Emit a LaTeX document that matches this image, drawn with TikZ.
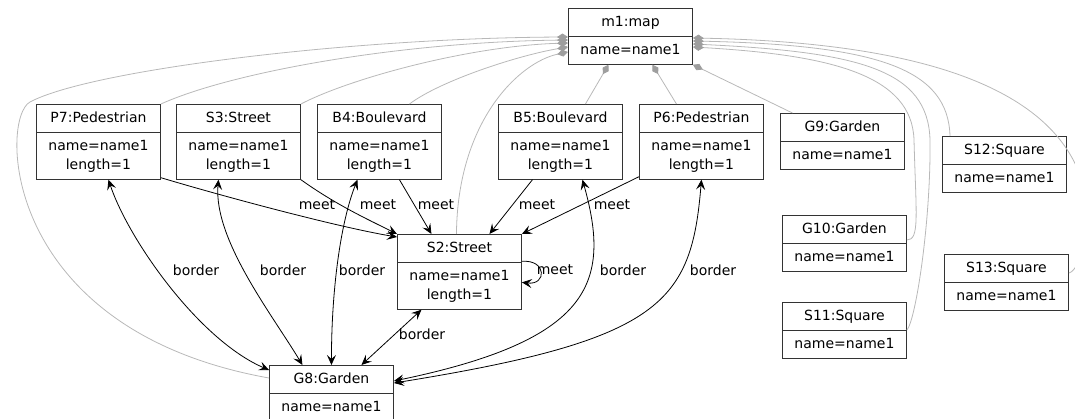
\documentclass[tikz,border=0pt]{standalone}
\usepackage{fontspec}
\setmainfont{DejaVu Sans}
\usetikzlibrary{shapes.multipart,arrows.meta,calc}

% object box: title part, then attribute part
\newcommand{\objtext}[2]{\begin{tabular}{@{}c@{}}#1\end{tabular}\nodepart{two}\begin{tabular}{@{}c@{}}#2\end{tabular}}

\begin{document}
\begin{tikzpicture}[x=1pt,y=-1pt,
  font=\fontsize{14}{19}\selectfont,
  >={Stealth[length=10pt,width=9pt,inset=4pt]},
  obj/.style={draw=black!80, line width=0.9pt, rectangle split, rectangle split parts=2,
    minimum width=124pt, inner xsep=2pt, inner ysep=4pt, anchor=north west},
  link/.style={line width=0.8pt, ->},
  brd/.style={line width=0.8pt, <->},
  part/.style={draw=black!28, line width=0.8pt, {Diamond[length=11pt,width=7pt,color=black!38]}-},
  lbl/.style={inner sep=0pt}]
  \useasboundingbox (0,0) rectangle (1075,419);

  % the map
  \node[obj] (m1) at (568,8) {\objtext{m1:map}{name=name1}};

  % top row of ways
  \node[obj] (P7) at (36,104)  {\objtext{P7:Pedestrian}{name=name1\\length=1}};
  \node[obj] (S3) at (176,104) {\objtext{S3:Street}{name=name1\\length=1}};
  \node[obj] (B4) at (317,104) {\objtext{B4:Boulevard}{name=name1\\length=1}};
  \node[obj] (B5) at (498,104) {\objtext{B5:Boulevard}{name=name1\\length=1}};
  \node[obj] (P6) at (639,104) {\objtext{P6:Pedestrian}{name=name1\\length=1}};

  % middle street and the garden below
  \node[obj] (S2) at (397,234) {\objtext{S2:Street}{name=name1\\length=1}};
  \node[obj] (G8) at (269,365) {\objtext{G8:Garden}{name=name1}};

  % gardens and squares on the right
  \node[obj] (G9)  at (780,113) {\objtext{G9:Garden}{name=name1}};
  \node[obj] (G10) at (782,215) {\objtext{G10:Garden}{name=name1}};
  \node[obj] (S11) at (782,302) {\objtext{S11:Square}{name=name1}};
  \node[obj] (S12) at (942,136) {\objtext{S12:Square}{name=name1}};
  \node[obj] (S13) at (944,254) {\objtext{S13:Square}{name=name1}};

  % composition links from m1 (grey, diamond at the map)
  \draw[part] ($(m1.north west)+(0,29)$) .. controls +(-218,1) and +(60,-32) .. (30,102)
    .. controls +(-30,16) and +(-269,-48) .. ($(G8.north west)+(0,13)$);
  \draw[part] ($(m1.north west)+(0,32)$) .. controls +(-168,2) and +(71,-32) .. (P7.north east);
  \draw[part] ($(m1.north west)+(0,35)$) .. controls +(-98,3) and +(50,-26) .. (S3.north east);
  \draw[part] ($(m1.north west)+(0,39)$) .. controls +(-48,8) and +(32,-24) .. ($(B4.north)+(30,0)$);
  \draw[part] ($(m1.north west)+(0,44)$) .. controls +(-48,10) and +(1,-114) .. ($(S2.north)+(-3,0)$);
  \draw[part] ($(m1.south)+(-22,0)$) -- ($(B5.north)+(25,0)$);
  \draw[part] ($(m1.south)+(22,0)$) -- ($(P6.north)+(-25,0)$);
  \draw[part] (m1.south east) -- ($(G9.north)+(-50,0)$);
  \draw[part] ($(m1.north east)+(0,39)$) .. controls +(138,8) and +(-2,-65) .. (914,140)
    .. controls +(2,75) and +(13,0) .. ($(G10.north east)+(0,25)$);
  \draw[part] ($(m1.north east)+(0,36)$) .. controls +(168,8) and +(-2,-70) .. (930,140)
    .. controls +(1,80) and +(9,-10) .. ($(S11.north east)+(0,28)$);
  \draw[part] ($(m1.north east)+(0,33)$) .. controls +(188,4) and +(-2,-66) .. ($(S12.north west)+(8,0)$);
  \draw[part] ($(m1.north east)+(0,30)$) .. controls +(208,4) and +(-38,-90) .. (1078,170)
    .. controls +(17,45) and +(13,-3) .. ($(S13.north east)+(0,19)$);

  % meet links into S2
  \draw[link] ($(P7.south east)+(0,-2)$) .. controls +(60,18) and +(-60,-10) .. ($(S2.north west)+(0,3)$);
  \draw[link] (S3.south east) .. controls +(35,25) and +(-30,-15) .. (S2.north west);
  \draw[link] ($(B4.south)+(20,0)$) -- ($(S2.north)+(-28,0)$);
  \draw[link] ($(B5.south)+(-28,0)$) -- ($(S2.north)+(30,0)$);
  \draw[link] ($(P6.south west)+(0,-3)$) -- (S2.north east);
  \draw[link] ($(S2.text split east)+(0,-1)$) .. controls +(25,-2) and +(25,3) .. ($(S2.text split east)+(0,20)$);

  \node[lbl] (mP7) at (317,205) {meet};
  \node[lbl] (mS3) at (378,205) {meet};
  \node[lbl] (mB4) at (436,205) {meet};
  \node[lbl] (mB5) at (537,205) {meet};
  \node[lbl] (mP6) at (612,205) {meet};
  \node[lbl] (mS2) at (555,270) {meet};

  % border links with G8
  \draw[brd] ($(P7.south)+(10,0)$) .. controls +(20,60) and +(-70,-30) .. ($(G8.north west)+(0,5)$);
  \draw[brd] ($(S3.south)+(-20,0)$) .. controls +(-5,60) and +(-30,-50) .. ($(G8.north)+(-29,0)$);
  \draw[brd] ($(B4.south)+(-22,0)$) .. controls +(-17,43) and +(0,-75) .. (G8.north);
  \draw[brd] ($(S2.south)+(-38,0)$) -- ($(G8.north)+(30,0)$);
  \draw[brd] ($(B5.south)+(22,0)$) .. controls +(29,103) and +(198,-41) .. ($(G8.north east)+(0,16)$);
  \draw[brd] (P6.south) .. controls +(-10,123) and +(268,-43) .. ($(G8.north east)+(0,18)$);

  \node[lbl] (bP7) at (196,270) {border};
  \node[lbl] (bS3) at (283,270) {border};
  \node[lbl] (bB4) at (362,270) {border};
  \node[lbl] (bS2) at (422,334) {border};
  \node[lbl] (bB5) at (623,270) {border};
  \node[lbl] (bP6) at (713,270) {border};
\end{tikzpicture}
\end{document}
